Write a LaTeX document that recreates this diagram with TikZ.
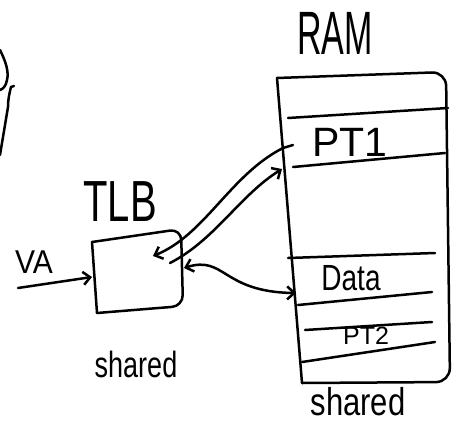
\documentclass[tikz,border=0pt]{standalone}
\usepackage{fontspec}
\setmainfont{Liberation Sans}
\usetikzlibrary{arrows.meta}
\begin{document}
\begin{tikzpicture}[x=1pt,y=-1pt,
  hand/.style={draw=black, line width=2.5pt, line cap=round, line join=round},
  tip/.style={-{Straight Barb[length=7pt,width=13pt,line width=2.5pt]}},
  bitip/.style={{Straight Barb[length=7pt,width=13pt,line width=2.5pt]}-{Straight Barb[length=7pt,width=13pt,line width=2.5pt]}},
  lbl/.style={inner sep=0pt, text=black}]
\useasboundingbox (0,0) rectangle (457,434);

% fragment at the left edge
\draw[hand] (0,50) .. controls (6,62) and (9,72) .. (7,80) .. controls (6,86) and (3,89) .. (0,90);
\draw[hand] (14,86) -- (11,87) .. controls (9,95) and (8,100) .. (8,107) -- (0,155);

% TLB box
\coordinate (tlbnw) at (92,242);
\coordinate (tlbne) at (181,229);
\coordinate (tlbse) at (183,306);
\coordinate (tlbsw) at (97,313);
\draw[hand] (tlbnw) -- (tlbsw);
\draw[hand, rounded corners=11pt] (tlbnw) -- (tlbne) -- (tlbse) -- (tlbsw);
\node[lbl] (tlblabel) at (120,202) {\scalebox{1}[1.45]{\fontsize{40}{40}\selectfont TLB}};
\node[lbl] (tlbshared) at (136,364) {\scalebox{1}[1.35]{\fontsize{27}{27}\selectfont shared}};

% VA
\node[lbl] (va) at (34,262) {\scalebox{1}[1.1]{\fontsize{30}{30}\selectfont VA}};
\coordinate (vastart) at (18,288);
\coordinate (vaend) at (92,277);
\draw[hand, tip] (vastart) -- (vaend);

% RAM
\coordinate (ramnw) at (277,78);
\coordinate (ramne) at (446,72);
\coordinate (ramse) at (450,382);
\coordinate (ramsw) at (302,383);
\draw[hand] (ramnw) -- (ramsw);
\draw[hand, rounded corners=14pt] (ramnw) -- (ramne) -- (ramse) -- (ramsw);
\node[lbl] (ramlabel) at (335,33) {\scalebox{1}[1.8]{\fontsize{34}{34}\selectfont RAM}};
\node[lbl] (ramshared) at (358,402) {\scalebox{1}[1.25]{\fontsize{31}{31}\selectfont shared}};

% RAM rows
\draw[hand] (288,118) -- (448,108);
\draw[hand] (293,167) -- (445,153);
\draw[hand] (288,258) -- (435,253);
\draw[hand] (298,305) -- (432,292);
\draw[hand] (305,330) -- (432,322);
\draw[hand] (302,362) -- (435,342);
\node[lbl] (pt1) at (350,142) {\fontsize{41}{41}\selectfont PT1};
\node[lbl] (data) at (351,278) {\scalebox{1}[1.3]{\fontsize{28}{28}\selectfont Data}};
\node[lbl] (pt2) at (366,336) {\fontsize{25}{25}\selectfont PT2};

% connectors between TLB and RAM
\coordinate (pt1a) at (293,145);
\coordinate (pt1b) at (282,169);
\coordinate (tlbin) at (153,256);
\coordinate (tlbout) at (170,263);
\coordinate (tlbright) at (184,268);
\coordinate (dataleft) at (296,293);
\draw[hand, tip] (pt1a) -- (283,148) .. controls (230,175) and (205,235) .. (tlbin);
\draw[hand, tip] (tlbout) .. controls (215,240) and (240,195) .. (pt1b);
\draw[hand, bitip] (tlbright) .. controls (225,255) and (222,292) .. (dataleft);
\end{tikzpicture}
\end{document}
